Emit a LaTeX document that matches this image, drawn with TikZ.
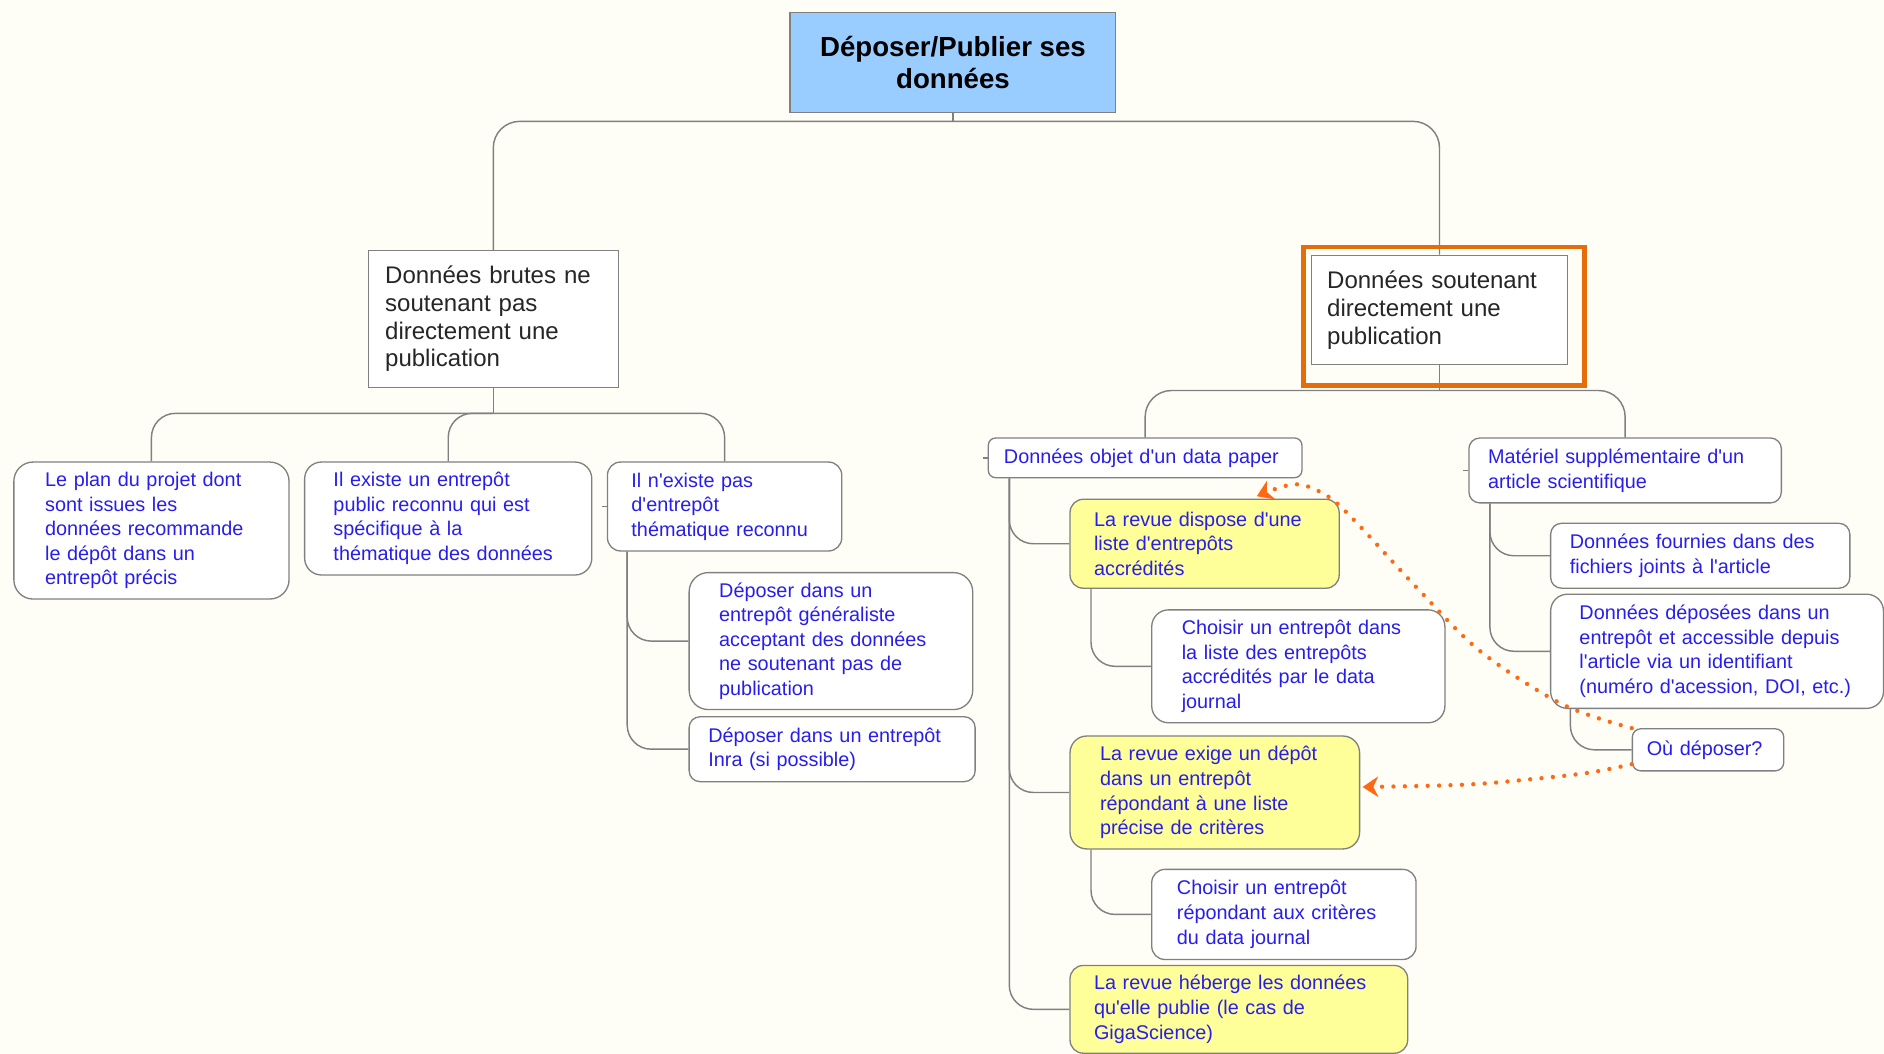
\documentclass[tikz,border=0pt]{standalone}
\usepackage{fontspec}
\setmainfont{Liberation Sans}
\newfontfamily\lsans{Liberation Sans}
\usetikzlibrary{arrows.meta}
\definecolor{bgcream}{RGB}{254,254,246}
\definecolor{linegray}{RGB}{128,128,128}
\definecolor{txtblue}{RGB}{40,30,235}
\definecolor{lyellow}{RGB}{255,255,153}
\definecolor{rootblue}{RGB}{153,204,255}
\definecolor{frameorange}{RGB}{228,108,10}
\definecolor{dotorange}{RGB}{255,105,20}
\tikzset{
  conn/.style={draw=linegray, line width=1.2pt, rounded corners=20pt},
  tick/.style={draw=linegray, line width=1.2pt},
  leaf/.style={draw=linegray, line width=1.1pt, fill=white, anchor=north west,
    inner ysep=0pt, align=left, text=txtblue, font=\lsans\fontsize{16.5pt}{20.5pt}\selectfont},
  yleaf/.style={leaf, fill=lyellow},
  lone/.style={draw=linegray, line width=1.1pt, fill=white, anchor=north west,
    inner ysep=0pt, align=left, text=black!85, font=\lsans\fontsize{20pt}{23pt}\selectfont},
  rootbox/.style={draw=linegray, line width=1.2pt, fill=rootblue, anchor=north west,
    inner sep=0pt, align=center, text=black, font=\lsans\bfseries\fontsize{23pt}{27pt}\selectfont},
  framebox/.style={draw=frameorange, line width=3.6pt, anchor=north west, inner sep=0pt},
  dotarrow/.style={draw=dotorange, line width=3.6pt, line cap=round,
    dash pattern=on 0pt off 9.5pt, -{Stealth[length=13pt,width=17pt,inset=4pt]}}
}
\begin{document}
\begin{tikzpicture}[x=1pt,y=-1pt]
\fill[bgcream] (0,0) rectangle (1568,877);
\useasboundingbox (0,0) rectangle (1568,877);

% root and level 1
\node[rootbox, minimum width=271pt, minimum height=83pt] (root) at (657,10) {Déposer/Publier ses\\données};
\node[lone, minimum width=208pt, minimum height=114pt, text width=180pt, inner xsep=14pt] (L1) at (306,208)
  {Données brutes ne\\soutenant pas\\directement une\\publication};
\node[lone, minimum width=213pt, minimum height=91pt, text width=187pt, inner xsep=13pt] (R1) at (1091,212)
  {Données soutenant\\directement une\\publication};

% left subtree
\node[leaf, minimum width=229pt, minimum height=114pt, text width=177pt, inner xsep=26pt, rounded corners=16pt] (b4) at (11,384)
  {Le plan du projet dont\\sont issues les\\données recommande\\le dépôt dans un\\entrepôt précis};
\node[leaf, minimum width=239pt, minimum height=94pt, text width=191pt, inner xsep=24pt, rounded corners=14pt] (b5) at (253,384)
  {Il existe un entrepôt\\public reconnu qui est\\spécifique à la\\thématique des données};
\node[leaf, minimum width=195pt, minimum height=74pt, text width=155pt, inner xsep=20pt, rounded corners=11pt] (b6) at (505,384)
  {Il n'existe pas\\d'entrepôt\\thématique reconnu};
\node[leaf, minimum width=236pt, minimum height=114pt, text width=186pt, inner xsep=25pt, rounded corners=16pt] (b7) at (573,476)
  {Déposer dans un\\entrepôt généraliste\\acceptant des données\\ne soutenant pas de\\publication};
\node[leaf, minimum width=238pt, minimum height=54pt, text width=206pt, inner xsep=16pt, rounded corners=9pt] (b8) at (573,596)
  {Déposer dans un entrepôt\\Inra (si possible)};

% right subtree
\node[leaf, minimum width=261pt, minimum height=33pt, text width=235pt, inner xsep=13pt, rounded corners=6pt] (b9) at (822,364)
  {Données objet d'un data paper};
\node[leaf, minimum width=260pt, minimum height=54pt, text width=228pt, inner xsep=16pt, rounded corners=9pt] (b10) at (1222,364)
  {Matériel supplémentaire d'un\\article scientifique};
\node[yleaf, minimum width=224pt, minimum height=74pt, text width=184pt, inner xsep=20pt, rounded corners=11pt] (b11) at (890,415)
  {La revue dispose d'une\\liste d'entrepôts\\accrédités};
\node[yleaf, minimum width=241pt, minimum height=94pt, text width=191pt, inner xsep=25pt, rounded corners=14pt] (b12) at (890,612)
  {La revue exige un dépôt\\dans un entrepôt\\répondant à une liste\\précise de critères};
\node[yleaf, minimum width=281pt, minimum height=73pt, text width=241pt, inner xsep=20pt, rounded corners=11pt] (b13) at (890,803)
  {La revue héberge les données\\qu'elle publie (le cas de\\GigaScience)};
\node[leaf, minimum width=244pt, minimum height=94pt, text width=194pt, inner xsep=25pt, rounded corners=14pt] (b14) at (958,507)
  {Choisir un entrepôt dans\\la liste des entrepôts\\accrédités par le data\\journal};
\node[leaf, minimum width=220pt, minimum height=75pt, text width=178pt, inner xsep=21pt, rounded corners=11pt] (b15) at (958,723)
  {Choisir un entrepôt\\répondant aux critères\\du data journal};
\node[leaf, minimum width=249pt, minimum height=54pt, text width=217pt, inner xsep=16pt, rounded corners=9pt] (b16) at (1290,435)
  {Données fournies dans des\\fichiers joints à l'article};
\node[leaf, minimum width=277pt, minimum height=95pt, text width=229pt, inner xsep=24pt, rounded corners=14pt] (b17) at (1290,494)
  {Données déposées dans un\\entrepôt et accessible depuis\\l'article via un identifiant\\(numéro d'acession, DOI, etc.)};
\node[leaf, minimum width=126pt, minimum height=35pt, text width=102pt, inner xsep=12pt, rounded corners=7pt] (b18) at (1358,606)
  {Où déposer?};

% connectors: top level
\coordinate (barT) at (0,101);
\draw[conn] (root.south) -- (root.south |- barT);
\draw[conn, rounded corners=22pt] (L1.north) -- (L1.north |- barT) -- (R1.north |- barT) -- (R1.north);

% left subtree
\coordinate (barL) at (0,344);
\draw[conn] (L1.south) -- (L1.south |- barL);
\draw[conn] (b4.north) -- (b4.north |- barL) -- (b6.north |- barL) -- (b6.north);
\draw[conn] (L1.south |- barL) -- (b5.north |- barL) -- (b5.north);
\coordinate (s6) at ([xshift=17pt]b6.south west);
\draw[conn] (s6) -- (s6 |- b7.west) -- (b7.west);
\draw[conn] (s6) -- (s6 |- b8.west) -- (b8.west);

% right subtree
\coordinate (barR) at (0,325);
\draw[conn] (R1.south) -- (R1.south |- barR);
\draw[conn, rounded corners=22pt] (b9.north) -- (b9.north |- barR) -- (b10.north |- barR) -- (b10.north);
\coordinate (s9) at ([xshift=18pt]b9.south west);
\draw[conn] (s9) -- (s9 |- b11.west) -- (b11.west);
\draw[conn] (s9) -- (s9 |- b12.west) -- (b12.west);
\draw[conn] (s9) -- (s9 |- b13.west) -- (b13.west);
\coordinate (s11) at ([xshift=18pt]b11.south west);
\draw[conn] (s11) -- (s11 |- b14.west) -- (b14.west);
\coordinate (s12) at ([xshift=18pt]b12.south west);
\draw[conn] (s12) -- (s12 |- b15.west) -- (b15.west);
\coordinate (s10) at ([xshift=18pt]b10.south west);
\draw[conn] (s10) -- (s10 |- b16.west) -- (b16.west);
\draw[conn] (s10) -- (s10 |- b17.west) -- (b17.west);
\coordinate (s17) at ([xshift=17pt]b17.south west);
\draw[conn] (s17) -- (s17 |- b18.west) -- (b18.west);

% small stubs
\draw[tick] (b6.west) -- ++(-4,0);
\draw[tick] (b9.west) -- ++(-4,0);
\draw[tick] (b10.west) -- ++(-4,0);

% orange highlight frame
\node[framebox, minimum width=234pt, minimum height=115pt] (frm) at (1083,204) {};

% dotted arrows
\coordinate (t1) at (1046,413);
\coordinate (t2) at (1134,655);
\draw[dotarrow] plot[smooth, tension=0.55] coordinates
  {(b18.north west) (1300,586) (1232,542) (1180,490) (1129,435) (1105,413) (1078,403) (t1)};
\draw[dotarrow] plot[smooth, tension=0.55] coordinates
  {([yshift=-12pt]b18.west) (1323,643) (1279,648) (1220,653) (t2)};
\end{tikzpicture}
\end{document}
